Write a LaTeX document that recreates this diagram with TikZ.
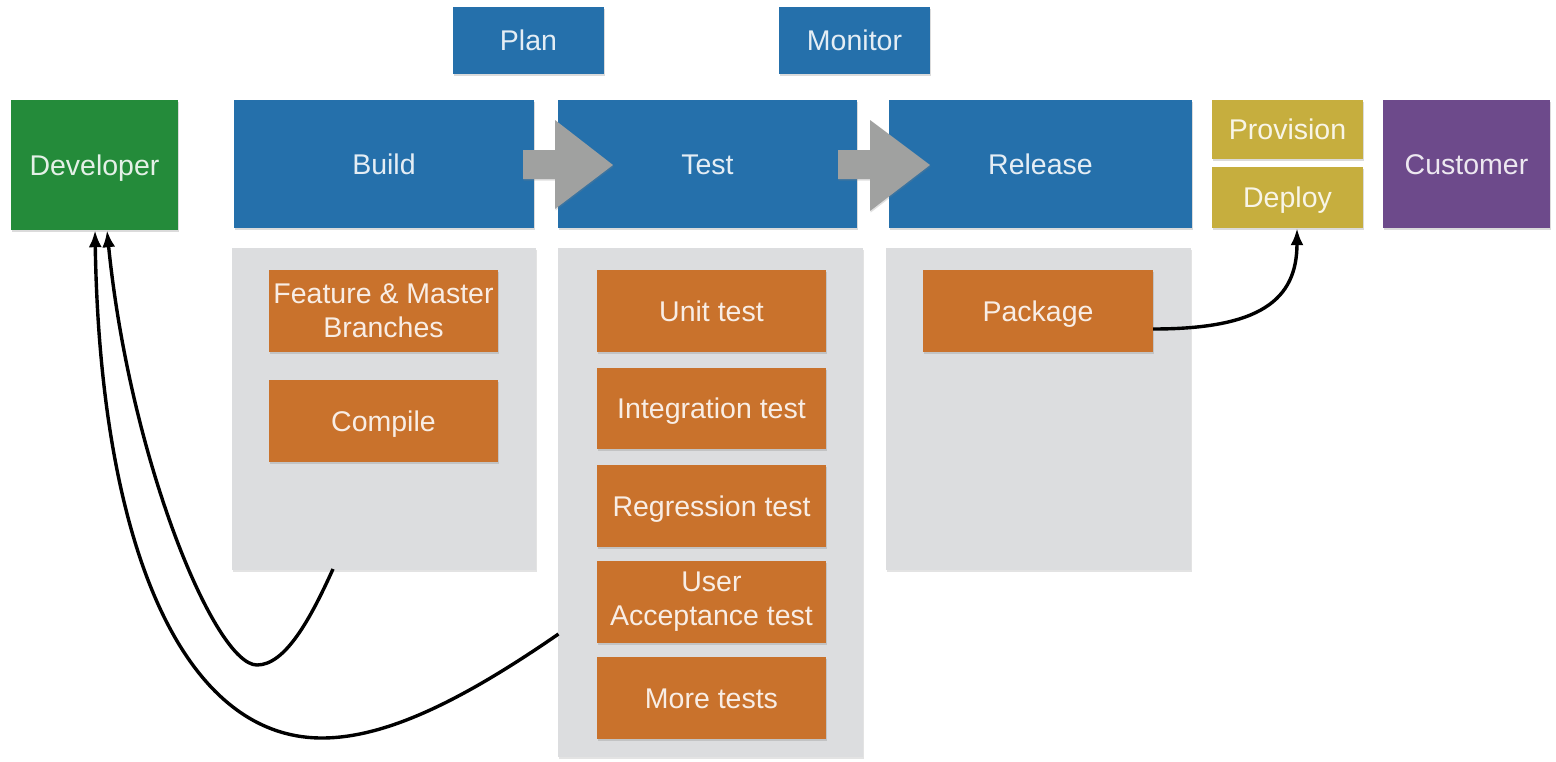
\documentclass[tikz,border=0pt]{standalone}
\usepackage{fontspec}
\setmainfont{Liberation Sans}
\usetikzlibrary{shadows,arrows.meta,calc}
\definecolor{cblue}{HTML}{2570AB}
\definecolor{cgreen}{HTML}{248B3A}
\definecolor{corange}{HTML}{C9722C}
\definecolor{cpanel}{HTML}{DCDDDF}
\definecolor{cmustard}{HTML}{C6AE3E}
\definecolor{cpurple}{HTML}{6D4A8B}
\definecolor{carrow}{HTML}{A0A1A0}
\tikzset{
  box/.style n args={3}{rectangle, inner sep=0pt, minimum width=#1pt, minimum height=#2pt,
    fill=#3, text=white, text opacity=0.88, align=center,
    font=\fontsize{28.5}{34}\selectfont, text height=20.5pt, text depth=0pt,
    drop shadow={shadow xshift=0.6pt, shadow yshift=-1.6pt, opacity=0.28}},
  mbox/.style n args={3}{rectangle, inner sep=0pt, minimum width=#1pt, minimum height=#2pt,
    fill=#3, text=white, text opacity=0.88, align=center,
    font=\fontsize{28.5}{34}\selectfont,
    drop shadow={shadow xshift=0.6pt, shadow yshift=-1.6pt, opacity=0.28}},
  panel/.style n args={2}{rectangle, inner sep=0pt, minimum width=#1pt, minimum height=#2pt,
    fill=cpanel, drop shadow={shadow xshift=0.6pt, shadow yshift=-1.6pt, opacity=0.22}},
  flowarrow/.style={fill=carrow, drop shadow={shadow xshift=0.6pt, shadow yshift=-1.6pt, opacity=0.25}},
  link/.style={draw=black, line width=3.4pt, -{Latex[length=17pt,width=13pt]}}
}
\begin{document}
\begin{tikzpicture}[x=1pt,y=-1pt]
\useasboundingbox (0,0) rectangle (1556,761);
\fill[white] (0,0) rectangle (1556,761);
% panels
\node[panel={304}{322}] (bpanel) at (384,409) {};
\node[panel={305}{509}] (tpanel) at (710.5,502.5) {};
\node[panel={305}{322}] (rpanel) at (1038.5,409) {};
% top boxes
\node[box={151}{67}{cblue}] (plan) at (528.5,40.5) {Plan};
\node[box={151}{67}{cblue}] (monitor) at (854.5,40.5) {Monitor};
\node[box={167}{130}{cgreen}] (dev) at (94.5,165) {Developer};
\node[box={300}{128}{cblue}] (build) at (384,164) {Build};
\node[box={299}{128}{cblue}] (test) at (707.5,164) {Test};
\node[box={303}{128}{cblue}] (release) at (1040.5,164) {Release};
\node[box={151}{59}{cmustard}] (prov) at (1287.5,129.5) {Provision};
\node[box={151}{61}{cmustard}] (deploy) at (1287.5,197.5) {Deploy};
\node[box={167}{128}{cpurple}] (cust) at (1466.5,164) {Customer};
% inner boxes
\node[mbox={229}{82}{corange}] (feat) at (383.5,311) {Feature \& Master\\Branches};
\node[box={229}{82}{corange}] (comp) at (383.5,421) {Compile};
\node[box={229}{82}{corange}] (unit) at (711.5,311) {Unit test};
\node[box={229}{81}{corange}] (integ) at (711.5,408.5) {Integration test};
\node[box={229}{82}{corange}] (regr) at (711.5,506) {Regression test};
\node[mbox={229}{82}{corange}] (uat) at (711.5,602) {User\\Acceptance test};
\node[box={229}{82}{corange}] (more) at (711.5,698) {More tests};
\node[box={230}{82}{corange}] (pkg) at (1038,311) {Package};
% flow arrows
\fill[flowarrow] (523,150) -- (555,150) -- (555,120) -- (613,165) -- (555,209) -- (555,179) -- (523,179) -- cycle;
\fill[flowarrow] (838,150) -- (870,150) -- (870,120) -- (930,165) -- (870,211) -- (870,179) -- (838,179) -- cycle;
% connectors
\coordinate (bstart) at (333,569);
\coordinate (tstart) at (558.5,634);
\coordinate (pstart) at (1153,329);
\draw[link] (bstart) .. controls (310,620) and (285,665) .. (257,665)
  .. controls (215,665) and (130,460) .. ([xshift=12.5pt]dev.south);
\draw[link] (tstart) .. controls (470,695) and (390,738) .. (322,738)
  .. controls (180,738) and (100,540) .. ([xshift=0.5pt]dev.south);
\draw[link] (pstart) .. controls (1260,329) and (1297,300) .. ([xshift=9.5pt]deploy.south);
\end{tikzpicture}
\end{document}
